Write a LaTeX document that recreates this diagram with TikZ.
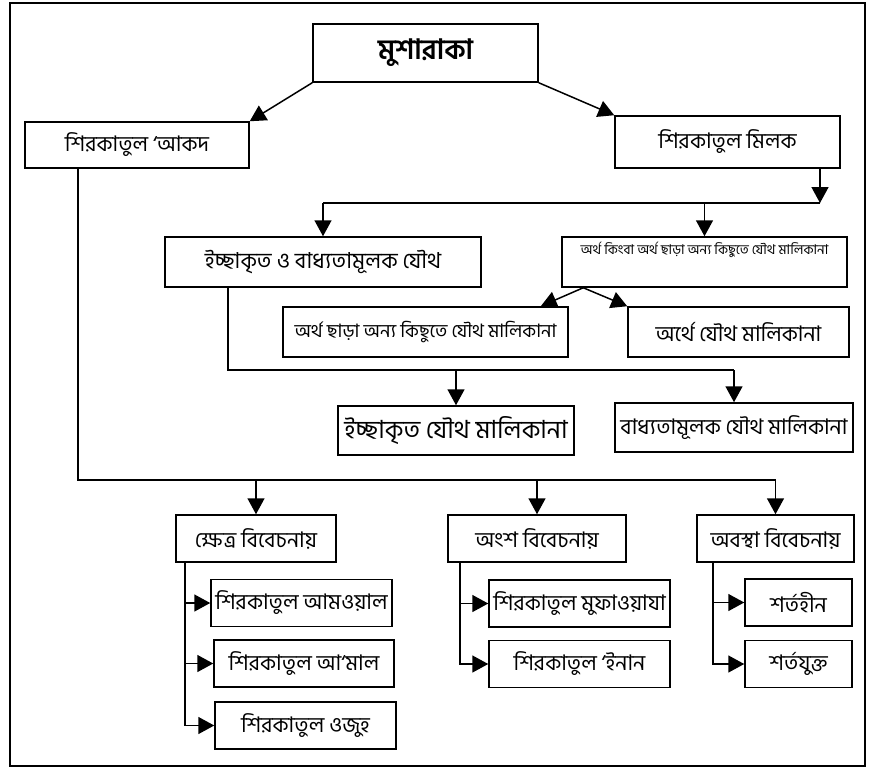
\documentclass[tikz,border=0pt]{standalone}
\usepackage{fontspec}
\setmainfont[Script=Bengali]{Hind Siliguri}
\usepackage{tikz}
\usetikzlibrary{arrows.meta, positioning, calc}

\begin{document}
\begin{tikzpicture}[
    x=1pt, y=-1pt,
    box/.style={draw, line width=1.5pt, minimum height=47pt, align=center,
                inner sep=2pt, font=\fontsize{21.5}{24}\selectfont},
    arrow/.style={-{Triangle[length=16pt, width=17pt]}, line width=1.5pt},
    link/.style={line width=1.5pt}
]
    \useasboundingbox (0,0) rectangle (869,768);
    \draw[line width=2pt] (10,3) rectangle (865,766);

    \node[box, minimum width=225pt, minimum height=58pt,
          font=\fontsize{28}{30}\selectfont\bfseries] (musharaka) at (425.5,53) {মুশারাকা};
    \node[box, minimum width=224pt, minimum height=46pt] (aqd) at (137,145) {শিরকাতুল ‘আকদ};
    \node[box, minimum width=225pt, minimum height=52pt] (milk) at (727.5,142) {শিরকাতুল মিলক};

    \node[box, minimum width=316pt, minimum height=50pt,
          font=\fontsize{22}{24}\selectfont] (mixed) at (323,262) {ইচ্ছাকৃত ও বাধ্যতামূলক যৌথ};
    \node[box, minimum width=285pt, minimum height=50pt,
          font=\fontsize{13.5}{15}\selectfont] (wealth) at (704.5,262) {অর্থ কিংবা অর্থ ছাড়া অন্য কিছুতে যৌথ মালিকানা\\[12pt]};
    \node[box, minimum width=285pt, minimum height=50pt,
          font=\fontsize{18.5}{21}\selectfont] (nowealth) at (425.5,332) {অর্থ ছাড়া অন্য কিছুতে যৌথ মালিকানা};
    \node[box, minimum width=221pt, minimum height=50pt] (inwealth) at (738.5,332) {অর্থে যৌথ মালিকানা};
    \node[box, minimum width=236pt, minimum height=49pt,
          font=\fontsize{25}{27}\selectfont] (voluntary) at (456,430.5) {ইচ্ছাকৃত যৌথ মালিকানা};
    \node[box, minimum width=238pt, minimum height=49pt] (compulsory) at (734,427.5) {বাধ্যতামূলক যৌথ মালিকানা};

    \node[box, minimum width=160pt] (byfield) at (256,538.5) {ক্ষেত্র বিবেচনায়};
    \node[box, minimum width=178pt] (byshare) at (537,538.5) {অংশ বিবেচনায়};
    \node[box, minimum width=157pt] (bystate) at (775.5,538.5) {অবস্থা বিবেচনায়};

    \node[box, minimum width=181pt] (amwal) at (301.5,603) {শিরকাতুল আমওয়াল};
    \node[box, minimum width=180pt] (amal) at (304,663.5) {শিরকাতুল আ‘মাল};
    \node[box, minimum width=181pt] (wujuh) at (305.5,725.5) {শিরকাতুল ওজুহ};
    \node[box, minimum width=181pt] (mufawada) at (579.5,603.5) {শিরকাতুল মুফাওয়াযা};
    \node[box, minimum width=181pt] (inan) at (579.5,664) {শিরকাতুল ‘ইনান};
    \node[box, minimum width=107pt] (unconditional) at (798.5,602.5) {শর্তহীন};
    \node[box, minimum width=107pt] (conditional) at (798.5,664) {শর্তযুক্ত};

    \draw[arrow] (musharaka.south west) -- (aqd.north east);
    \draw[arrow] (musharaka.south east) -- (milk.north west);

    \coordinate (milkdrop) at (820,203);
    \draw[arrow] (milk.south -| milkdrop) -- (milkdrop);
    \draw[link] (milkdrop) -- (mixed.north |- milkdrop);
    \draw[arrow] (mixed.north |- milkdrop) -- (mixed.north);
    \draw[arrow] (wealth.north |- milkdrop) -- (wealth.north);

    \coordinate (fork) at ([xshift=22pt]wealth.south west);
    \draw[arrow] (fork) -- ([xshift=-28pt]nowealth.north east);
    \draw[arrow] (fork) -- (inwealth.north west);

    \coordinate (mixeddrop) at (228,370);
    \draw[link] (mixed.south -| mixeddrop) -- (mixeddrop) -- (compulsory.north |- mixeddrop);
    \draw[arrow] (voluntary.north |- mixeddrop) -- (voluntary.north);
    \draw[arrow] (compulsory.north |- mixeddrop) -- (compulsory.north);

    \coordinate (aqddrop) at (78,480);
    \draw[link] (aqd.south -| aqddrop) -- (aqddrop) -- (bystate.north |- aqddrop);
    \foreach \n in {byfield, byshare, bystate}
        \draw[arrow] (\n.north |- aqddrop) -- (\n.north);

    \foreach \t in {amwal, amal, wujuh}
        \draw[arrow] ([xshift=-71pt]byfield.south) |- (\t.west);
    \foreach \t in {mufawada, inan}
        \draw[arrow] ([xshift=-77pt]byshare.south) |- (\t.west);
    \foreach \t in {unconditional, conditional}
        \draw[arrow] ([xshift=-62.5pt]bystate.south) |- (\t.west);
\end{tikzpicture}
\end{document}
